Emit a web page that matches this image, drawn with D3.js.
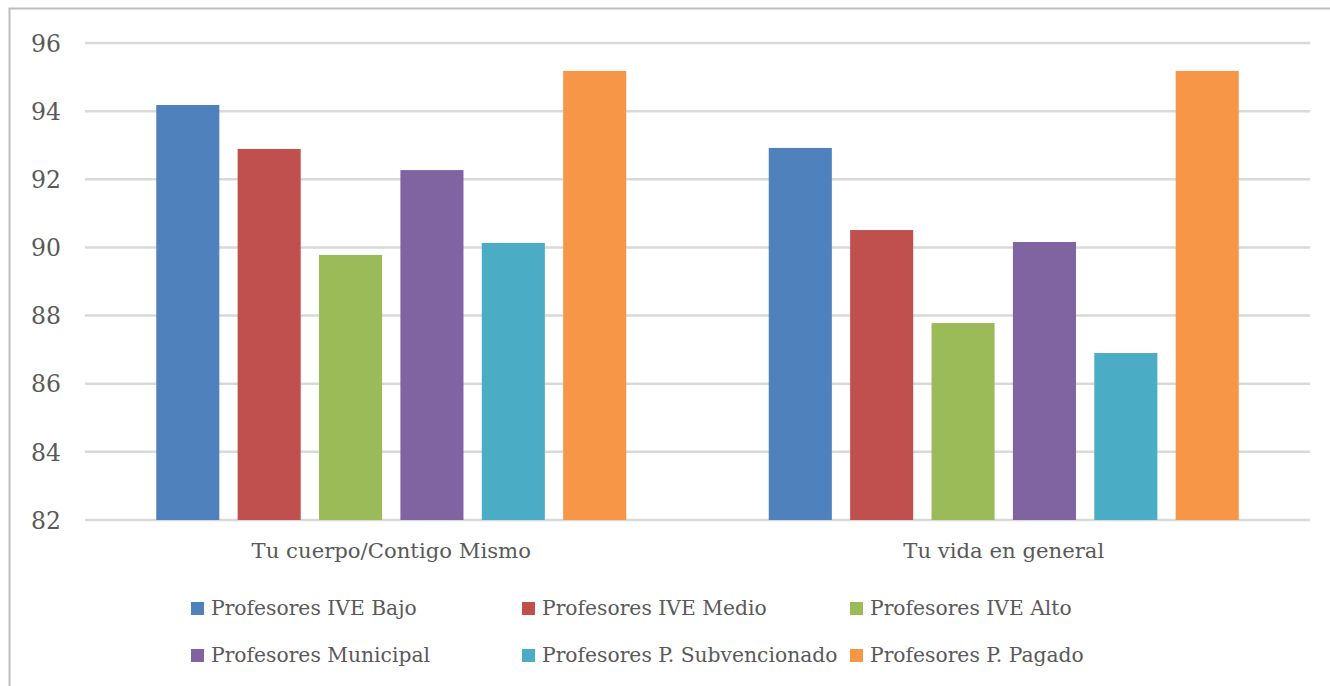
<!DOCTYPE html>
<html>
<head>
<meta charset="utf-8">
<title>Satisfacción profesores</title>
<script src="https://cdn.jsdelivr.net/npm/d3@7"></script>
<style>
body { margin: 0; background: #fff; }
svg text { font-family: "DejaVu Serif", serif !important; fill: #595959; }
</style>
</head>
<body>
<div id="grafico"></div>
<script>
// datos
var categorias = ["Tu cuerpo/Contigo Mismo", "Tu vida en general"];
var series = ["Profesores IVE Bajo", "Profesores IVE Medio", "Profesores IVE Alto",
              "Profesores Municipal", "Profesores P. Subvencionado", "Profesores P. Pagado"];
var cuerpo = [94.18, 92.89, 89.78, 92.27, 90.13, 95.18];
var vida   = [92.92, 90.51, 87.78, 90.16, 86.90, 95.18];
var ticks  = [82, 84, 86, 88, 90, 92, 94, 96];
var colores = ["#4f81bd", "#c0504d", "#9bbb59", "#8064a2", "#4bacc6", "#f79646"];

var valores = [cuerpo, vida];

var W = 1330, H = 686;
var svg = d3.select("#grafico").append("svg")
    .attr("width", W)
    .attr("height", H);

// marco
svg.append("path")
    .attr("d", "M9.5," + H + "V8.5H" + W)
    .attr("fill", "none")
    .attr("stroke", "#bdbdbd")
    .attr("stroke-width", 2);

var x0 = d3.scaleBand()
    .domain(categorias)
    .range([85, 1310]);

var x1 = d3.scaleBand()
    .domain(series)
    .range([0, 470])
    .paddingInner(0.225);

var y = d3.scaleLinear()
    .domain([82, 96])
    .range([520, 43]);

// lineas de grilla
svg.append("g").selectAll("line")
    .data(ticks)
  .enter().append("line")
    .attr("x1", 85)
    .attr("x2", 1310)
    .attr("y1", function(d) { return y(d); })
    .attr("y2", function(d) { return y(d); })
    .attr("stroke", "#d9d9d9")
    .attr("stroke-width", 2.5);

// eje y
var yAxis = d3.axisLeft(y)
    .tickValues(ticks)
    .tickSize(0)
    .tickPadding(0);

var gy = svg.append("g")
    .attr("transform", "translate(61,0)")
    .call(yAxis);
gy.select(".domain").remove();
gy.selectAll("text")
    .style("font-size", "23.5px")
    .attr("dy", "0.35em")
    .attr("text-anchor", "end");

// barras
var grupos = svg.selectAll(".grupo")
    .data(categorias)
  .enter().append("g")
    .attr("class", "grupo")
    .attr("transform", function(d) {
        return "translate(" + (x0(d) + x0.bandwidth() / 2 - 235) + ",0)";
    });

grupos.selectAll("rect")
    .data(function(d, i) {
        return series.map(function(s, j) { return { serie: s, valor: valores[i][j], j: j }; });
    })
  .enter().append("rect")
    .attr("x", function(d) { return x1(d.serie); })
    .attr("width", x1.bandwidth())
    .attr("y", function(d) { return y(d.valor); })
    .attr("height", function(d) { return y(82) - y(d.valor); })
    .attr("fill", function(d) { return colores[d.j]; });

// eje x
var xAxis = d3.axisBottom(x0)
    .tickSize(0)
    .tickPadding(0);
var gx = svg.append("g")
    .attr("transform", "translate(0,551)")
    .call(xAxis);
gx.select(".domain").remove();
gx.selectAll("text")
    .style("font-size", "21.2px")
    .attr("dy", "0.35em");

// leyenda
var legX = [191, 522, 850];
var legY = [608, 655];
var leyenda = svg.selectAll(".leyenda")
    .data(series)
  .enter().append("g")
    .attr("class", "leyenda")
    .attr("transform", function(d, i) {
        return "translate(" + legX[i % 3] + "," + legY[Math.floor(i / 3)] + ")";
    });
leyenda.append("rect")
    .attr("x", 0)
    .attr("y", -6)
    .attr("width", 13)
    .attr("height", 13)
    .attr("fill", function(d, i) { return colores[i]; });
leyenda.append("text")
    .attr("x", 20)
    .attr("dy", "0.35em")
    .style("font-size", "20.3px")
    .text(function(d) { return d; });
</script>
</body>
</html>
